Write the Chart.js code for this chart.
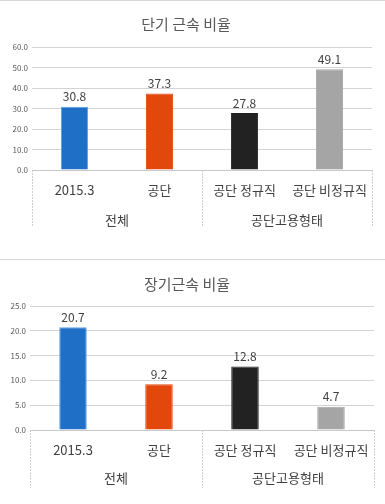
<!DOCTYPE html>
<html><head><meta charset="utf-8">
<script src="https://cdn.jsdelivr.net/npm/chart.js@4/dist/chart.umd.min.js"></script>
<style>
html,body{margin:0;padding:0;background:#fff;}
#wrap{position:relative;width:385px;height:504px;overflow:hidden;}
#p1{position:absolute;left:0;top:0;width:385px;height:250px;border-top:1px solid #d9d9d9;}
#p2{position:absolute;left:0;top:259px;width:385px;height:245px;border-top:1px solid #d9d9d9;}
canvas{display:block;}
</style></head>
<body><div id="wrap">
<div id="p1"><canvas id="c1" width="385" height="249"></canvas></div>
<div id="p2"><canvas id="c2" width="385" height="244"></canvas></div>
</div>
<script>
const categories = ["2015.3", "공단", "공단 정규직", "공단 비정규직"];
const groups = ["전체", "공단고용형태"];
const groupSpans = [2, 2];
const shortTermValues = [30.8, 37.3, 27.8, 49.1];
const longTermValues = [20.7, 9.2, 12.8, 4.7];
const titles = ["단기 근속 비율", "장기근속 비율"];
const barColors = ["#1f6fc6", "#e2470b", "#222222", "#a5a5a5"];
const barBorders = ["#5aa2e6", "#e2470b", "#222222", "#a5a5a5"];

const FONT = "'Noto Sans CJK KR', 'Noto Sans', sans-serif";
const TXT = "#404040";

const extras = {
  id: 'extras',
  afterDraw(chart, args, opts) {
    const ctx = chart.ctx;
    const x = chart.scales.x;
    const area = chart.chartArea;
    const meta = chart.getDatasetMeta(0);
    ctx.save();
    ctx.font = "12px " + FONT;
    ctx.fillStyle = TXT;
    ctx.textAlign = 'center';
    ctx.textBaseline = 'bottom';
    meta.data.forEach((bar, i) => {
      ctx.fillText(chart.data.datasets[0].data[i].toFixed(1), bar.x, bar.y - 4);
    });
    const step = x.getPixelForValue(1) - x.getPixelForValue(0);
    let idx = 0;
    const bounds = [x.getPixelForValue(0) - step / 2];
    groupSpans.forEach(s => { idx += s; bounds.push(x.getPixelForValue(idx - 1) + step / 2); });
    ctx.strokeStyle = '#d0d0d0';
    ctx.lineWidth = 1;
    ctx.setLineDash([2, 1]);
    bounds.forEach(b => {
      const bx = Math.round(b) + 0.5;
      ctx.beginPath();
      ctx.moveTo(bx, area.bottom);
      ctx.lineTo(bx, area.bottom + opts.sepLen);
      ctx.stroke();
    });
    ctx.setLineDash([]);
    ctx.font = "13px " + FONT;
    ctx.textBaseline = 'middle';
    groups.forEach((g, i) => {
      ctx.fillText(g, (bounds[i] + bounds[i + 1]) / 2, area.bottom + opts.groupOffset);
    });
    ctx.restore();
  }
};

function makeChart(id, title, values, max, stepSize, cfg) {
  return new Chart(document.getElementById(id), {
    type: 'bar',
    data: {
      labels: categories,
      datasets: [{
        data: values,
        backgroundColor: barColors,
        borderColor: barBorders,
        borderWidth: 1,
        barPercentage: 0.32,
        categoryPercentage: 1
      }]
    },
    options: {
      responsive: false,
      animation: false,
      layout: { padding: { left: 0, right: cfg.right, top: 0, bottom: 0 } },
      plugins: {
        legend: { display: false },
        tooltip: { enabled: false },
        title: {
          display: true, text: title, color: '#595959',
          font: { family: FONT, size: 15, weight: 'normal' },
          padding: { top: cfg.titleTop, bottom: cfg.titleBottom }
        },
        extras: { sepLen: cfg.sepLen, groupOffset: cfg.groupOffset }
      },
      scales: {
        y: {
          min: 0, max: max,
          ticks: { stepSize: stepSize, color: '#595959', padding: 4,
            font: { family: FONT, size: 8 },
            callback: v => Number(v).toFixed(1) },
          grid: { color: '#d4d4d4', drawTicks: false },
          border: { display: false },
          afterFit: s => { s.width = cfg.yWidth; }
        },
        x: {
          grid: { display: false },
          border: { display: true, color: '#c8c8c8' },
          ticks: { color: TXT, padding: 4, font: { family: FONT, size: 13 }, maxRotation: 0, autoSkip: false },
          afterFit: s => { s.height = cfg.xHeight; }
        }
      }
    },
    plugins: [extras]
  });
}

makeChart('c1', titles[0], shortTermValues, 60, 10,
  { right: 13, titleTop: 14, titleBottom: 14, yWidth: 32, xHeight: 80, sepLen: 57, groupOffset: 50 });
makeChart('c2', titles[1], longTermValues, 25, 5,
  { right: 11, titleTop: 15, titleBottom: 13, yWidth: 30, xHeight: 74, sepLen: 58, groupOffset: 48 });
</script>
</body></html>
